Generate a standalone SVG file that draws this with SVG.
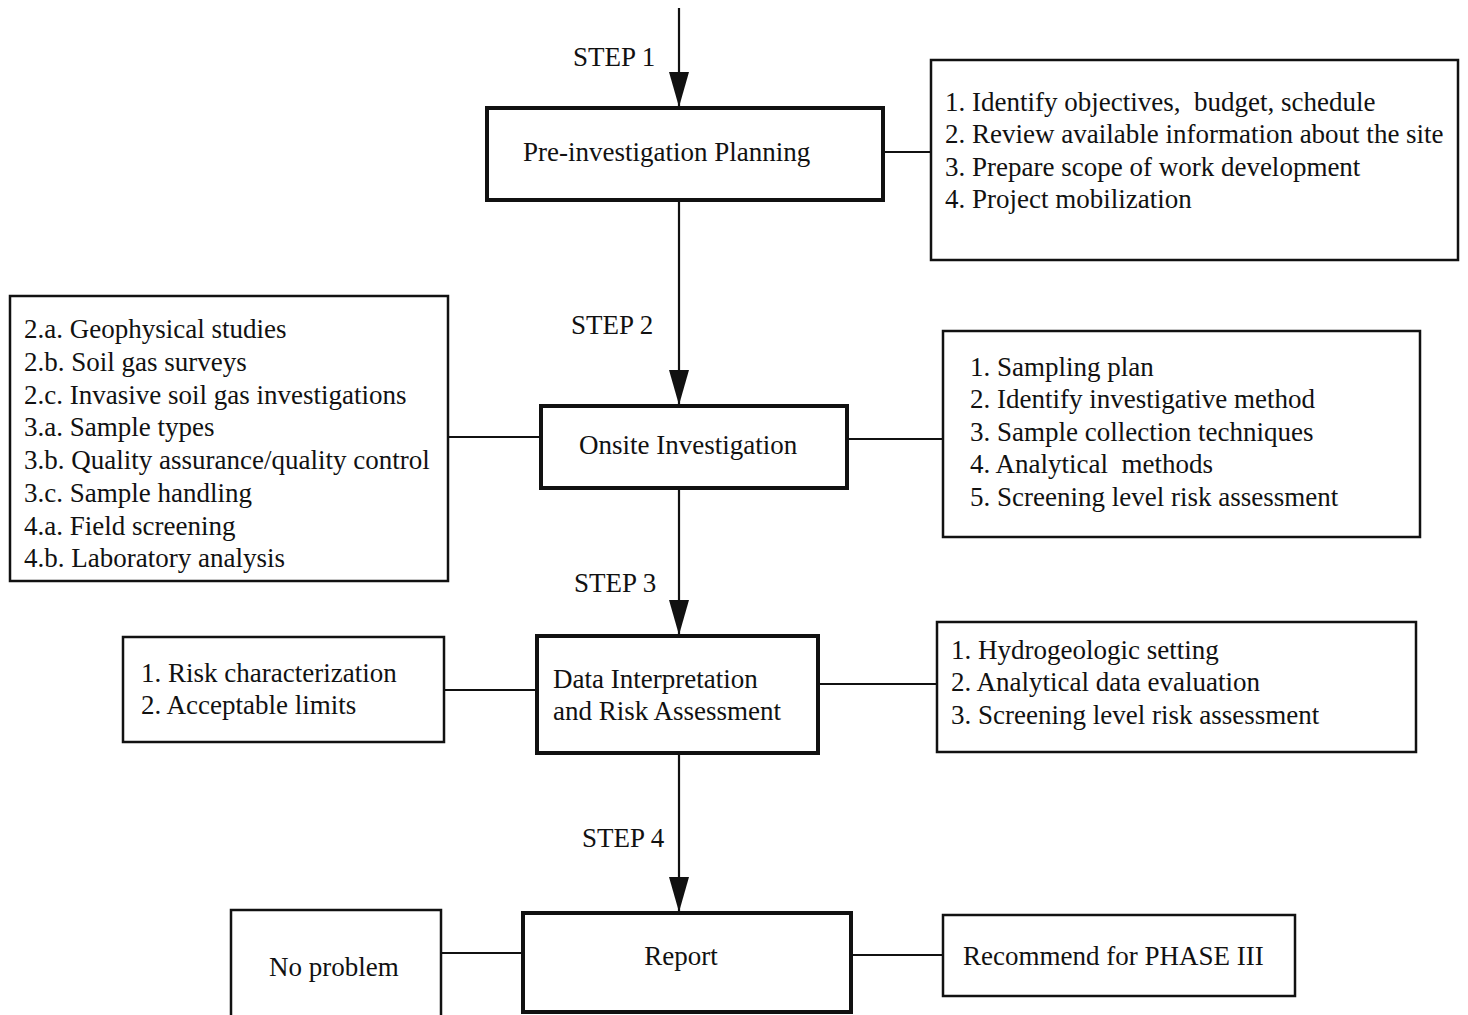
<svg xmlns="http://www.w3.org/2000/svg" width="1468" height="1015" viewBox="0 0 1468 1015">
<defs>
<style>
text{font-family:"Liberation Serif","Times New Roman",serif;font-size:27px;fill:#111}
.main{fill:#fff;stroke:#111;stroke-width:4}
.side{fill:#fff;stroke:#111;stroke-width:2.5}
.conn{stroke:#111;stroke-width:2.2;fill:none}
</style>
<marker id="ah" markerUnits="userSpaceOnUse" markerWidth="36" markerHeight="22" refX="35" refY="11" orient="auto" viewBox="0 0 36 22">
<path d="M0,1 L35,11 L0,21 Z" fill="#111"/>
</marker>
</defs>
<rect width="1468" height="1015" fill="#fff"/>
<g id="connectors">
<line class="conn" x1="679" y1="8" x2="679" y2="107" marker-end="url(#ah)"/>
<line class="conn" x1="679" y1="200" x2="679" y2="405" marker-end="url(#ah)"/>
<line class="conn" x1="679" y1="488" x2="679" y2="635" marker-end="url(#ah)"/>
<line class="conn" x1="679" y1="753" x2="679" y2="912" marker-end="url(#ah)"/>
<line class="conn" x1="883" y1="152" x2="931" y2="152"/>
<line class="conn" x1="448" y1="437" x2="541" y2="437"/>
<line class="conn" x1="847" y1="439" x2="943" y2="439"/>
<line class="conn" x1="444" y1="690" x2="537" y2="690"/>
<line class="conn" x1="818" y1="684" x2="937" y2="684"/>
<line class="conn" x1="441" y1="953" x2="523" y2="953"/>
<line class="conn" x1="851" y1="955" x2="943" y2="955"/>
<text x="573" y="66">STEP 1</text>
<text x="571" y="334">STEP 2</text>
<text x="574" y="592">STEP 3</text>
<text x="582" y="847">STEP 4</text>
</g>
<g id="pre-investigation">
<rect class="main" x="487" y="108" width="396" height="92"/>
<text x="523" y="161">Pre-investigation Planning</text>
</g>
<g id="planning-list">
<rect class="side" x="931" y="60" width="527" height="200"/>
<text x="945" y="111">1. Identify objectives,&#160; budget, schedule</text>
<text x="945" y="143">2. Review available information about the site</text>
<text x="945" y="176">3. Prepare scope of work development</text>
<text x="945" y="208">4. Project mobilization</text>
</g>
<g id="onsite-left">
<rect class="side" x="10" y="296" width="438" height="285"/>
<text x="24" y="338">2.a. Geophysical studies</text>
<text x="24" y="371">2.b. Soil gas surveys</text>
<text x="24" y="404">2.c. Invasive soil gas investigations</text>
<text x="24" y="436">3.a. Sample types</text>
<text x="24" y="469">3.b. Quality assurance/quality control</text>
<text x="24" y="502">3.c. Sample handling</text>
<text x="24" y="535">4.a. Field screening</text>
<text x="24" y="567">4.b. Laboratory analysis</text>
</g>
<g id="onsite">
<rect class="main" x="541" y="406" width="306" height="82"/>
<text x="579" y="454">Onsite Investigation</text>
</g>
<g id="onsite-right">
<rect class="side" x="943" y="331" width="477" height="206"/>
<text x="970" y="376">1. Sampling plan</text>
<text x="970" y="408">2. Identify investigative method</text>
<text x="970" y="441">3. Sample collection techniques</text>
<text x="970" y="473">4. Analytical&#160; methods</text>
<text x="970" y="506">5. Screening level risk assessment</text>
</g>
<g id="risk-left">
<rect class="side" x="123" y="637" width="321" height="105"/>
<text x="141" y="682">1. Risk characterization</text>
<text x="141" y="714">2. Acceptable limits</text>
</g>
<g id="data-interpretation">
<rect class="main" x="537" y="636" width="281" height="117"/>
<text x="553" y="688">Data Interpretation</text>
<text x="553" y="720">and Risk Assessment</text>
</g>
<g id="data-right">
<rect class="side" x="937" y="622" width="479" height="130"/>
<text x="951" y="659">1. Hydrogeologic setting</text>
<text x="951" y="691">2. Analytical data evaluation</text>
<text x="951" y="724">3. Screening level risk assessment</text>
</g>
<g id="no-problem">
<rect class="side" x="231" y="910" width="210" height="110"/>
<text x="269" y="976">No problem</text>
</g>
<g id="report">
<rect class="main" x="523" y="913" width="328" height="99"/>
<text x="681" y="965" text-anchor="middle">Report</text>
</g>
<g id="phase3">
<rect class="side" x="943" y="915" width="352" height="81"/>
<text x="963" y="965">Recommend for PHASE III</text>
</g>
</svg>
